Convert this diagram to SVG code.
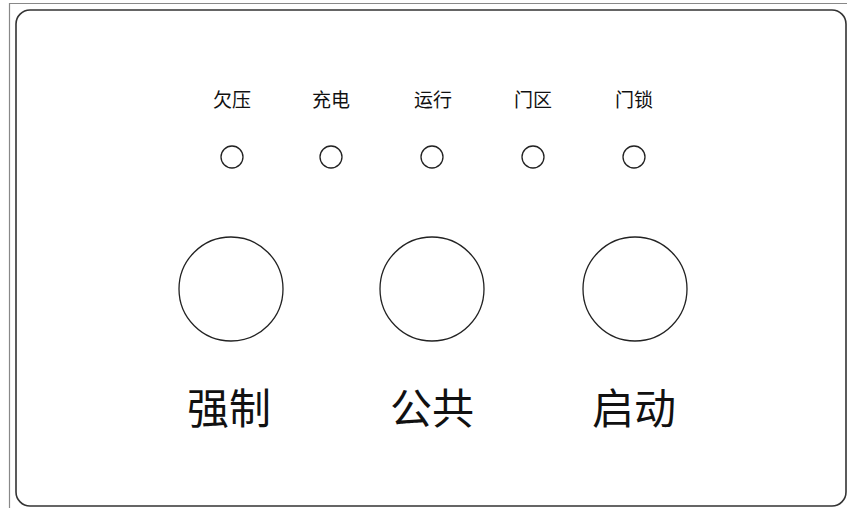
<svg xmlns="http://www.w3.org/2000/svg" width="847" height="508" viewBox="0 0 847 508">
<style>
.frame{fill:none;stroke:#888;stroke-width:1.2}
.panel{fill:#fff;stroke:#333;stroke-width:1.6}
.led{fill:#fff;stroke:#222;stroke-width:1.3}
.btn{fill:#fff;stroke:#222;stroke-width:1.3}
.sm{font-family:"Noto Sans CJK SC","Noto Sans",sans-serif;font-size:19px;font-weight:normal;fill:#111;text-anchor:middle}
.lg{font-family:"Noto Sans CJK SC","Noto Sans",sans-serif;font-size:42px;font-weight:normal;fill:#111;text-anchor:middle}
</style>
<rect width="847" height="508" fill="#fff"/>
<path class="frame" d="M9.5,508 V3.5 H847"/>
<rect id="panel" class="panel" x="16" y="10" width="830" height="496" rx="14"/>
<g id="led-qianya"><text class="sm" x="232" y="107">欠压</text><circle class="led" cx="232" cy="157" r="11"/></g>
<g id="led-chongdian"><text class="sm" x="331" y="107">充电</text><circle class="led" cx="331" cy="157" r="11"/></g>
<g id="led-yunxing"><text class="sm" x="433" y="107">运行</text><circle class="led" cx="432" cy="157" r="11"/></g>
<g id="led-menqu"><text class="sm" x="533" y="107">门区</text><circle class="led" cx="533" cy="157" r="11"/></g>
<g id="led-mensuo"><text class="sm" x="634" y="107">门锁</text><circle class="led" cx="634" cy="157" r="11"/></g>
<g id="btn-qiangzhi"><circle class="btn" cx="231" cy="289" r="52"/><text class="lg" x="229" y="424">强制</text></g>
<g id="btn-gonggong"><circle class="btn" cx="432" cy="289" r="52"/><text class="lg" x="432" y="424">公共</text></g>
<g id="btn-qidong"><circle class="btn" cx="635" cy="289" r="52"/><text class="lg" x="634" y="424">启动</text></g>
<g id="connectors"/>
</svg>
